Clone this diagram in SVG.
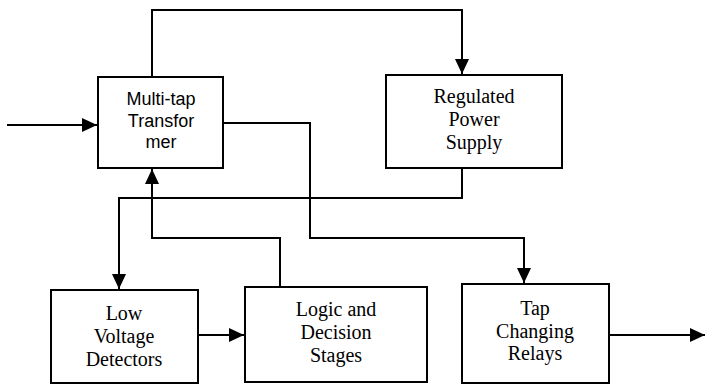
<svg xmlns="http://www.w3.org/2000/svg" width="706" height="386" viewBox="0 0 706 386">
<style>
.box{fill:#fff;stroke:#000;stroke-width:2}
.sans{font-family:'Liberation Sans', Arial, sans-serif;font-size:18px;text-anchor:middle;fill:#000}
.serif{font-family:'Liberation Serif', 'DejaVu Serif', 'Times New Roman', serif;font-size:20px;text-anchor:middle;fill:#000}
.conn{fill:none;stroke:#000;stroke-width:2}
</style>
<defs>
<marker id="arr" markerUnits="userSpaceOnUse" markerWidth="16" markerHeight="16" refX="15" refY="7" orient="auto">
<path d="M0,0 L15,7 L0,14 z" fill="#000"/>
</marker>
</defs>
<g id="connectors">
<path class="conn" d="M7,125 H97" marker-end="url(#arr)"/>
<path class="conn" d="M152,77 V10 H462 V74" marker-end="url(#arr)"/>
<path class="conn" d="M223,123 H310 V238 H524 V283" marker-end="url(#arr)"/>
<path class="conn" d="M462,168 V198 H119 V289" marker-end="url(#arr)"/>
<path class="conn" d="M280,287 V238 H152 V169" marker-end="url(#arr)"/>
<path class="conn" d="M198,335 H244" marker-end="url(#arr)"/>
<path class="conn" d="M609,335 H705" marker-end="url(#arr)"/>
</g>
<g id="multitap">
<rect class="box" x="98" y="77" width="125" height="91"/>
<text class="sans" x="161" y="105">Multi-tap</text>
<text class="sans" x="161" y="127">Transfor</text>
<text class="sans" x="161" y="148">mer</text>
</g>
<g id="regulated">
<rect class="box" x="386" y="75" width="176" height="93"/>
<text class="serif" font-family="Liberation Serif, serif" x="474" y="103">Regulated</text>
<text class="serif" font-family="Liberation Serif, serif" x="474" y="126">Power</text>
<text class="serif" font-family="Liberation Serif, serif" x="474" y="149">Supply</text>
</g>
<g id="lowvoltage">
<rect class="box" x="51" y="290" width="147" height="93"/>
<text class="serif" x="124" y="320">Low</text>
<text class="serif" x="124" y="343">Voltage</text>
<text class="serif" x="124" y="366">Detectors</text>
</g>
<g id="logic">
<rect class="box" x="245" y="287" width="182" height="95"/>
<text class="serif" x="336" y="316">Logic and</text>
<text class="serif" x="336" y="339">Decision</text>
<text class="serif" x="336" y="362">Stages</text>
</g>
<g id="tap">
<rect class="box" x="462" y="284" width="147" height="99"/>
<text class="serif" x="535" y="315">Tap</text>
<text class="serif" x="535" y="338">Changing</text>
<text class="serif" x="535" y="360">Relays</text>
</g>
</svg>
